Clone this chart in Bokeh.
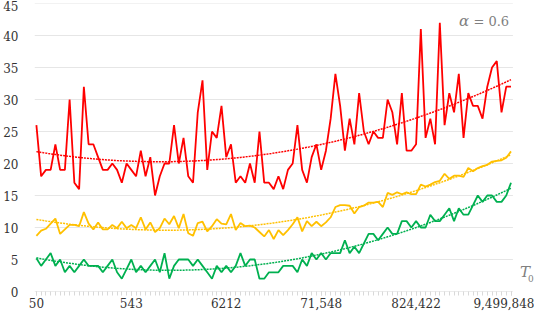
import numpy as np
from bokeh.plotting import figure
from bokeh.models import FixedTicker, Label, Range1d
from bokeh.embed import file_html
from bokeh.resources import INLINE

tick_labels = ["50", "543", "6212", "71,548", "824,422", "9,499,848"]
tick_index = [0, 20, 40, 60, 80, 100]
y_ticks = [0, 5, 10, 15, 20, 25, 30, 35, 40, 45]

red = [26, 18, 19, 19, 23, 19, 19, 30, 17, 16,
       32, 23, 23, 21, 19, 19, 20, 19, 17, 20,
       19, 18, 22, 18, 21, 15, 18, 20, 20, 26,
       20, 24, 18, 17, 28, 33, 19, 25, 24, 29,
       21, 23, 17, 18, 17, 20, 17, 25, 17, 17,
       16, 18, 16, 19, 20, 26, 19, 17, 21, 23,
       19, 22, 27, 34, 29, 22, 27, 23, 31, 25,
       23, 25, 24, 24, 30, 28, 23, 31, 22, 22,
       23, 41, 24, 27, 23, 42, 26, 31, 28, 34,
       24, 31, 29, 29, 27, 32, 35, 36, 28, 32,
       32]

yellow = [8.7, 9.5, 9.8, 10.6, 11.4, 9.0, 9.7, 10.4, 10.4, 10.2,
          12.4, 10.6, 9.7, 10.8, 9.7, 9.7, 10.4, 9.9, 10.9, 9.9,
          10.4, 9.9, 11.6, 9.7, 10.8, 9.3, 9.9, 11.4, 10.5, 11.8,
          9.9, 12.1, 9.1, 8.7, 10.7, 10.9, 9.4, 10.2, 11.3, 10.6,
          10.5, 12.1, 9.6, 10.7, 10.2, 10.3, 10.0, 9.3, 8.6, 9.6,
          8.2, 9.6, 8.8, 9.6, 10.5, 11.6, 9.4, 11.0, 10.2, 10.9,
          10.2, 10.8, 11.6, 13.2, 13.5, 13.5, 13.4, 12.2, 13.2, 13.4,
          13.9, 13.9, 14.0, 13.2, 15.4, 15.1, 15.5, 15.2, 15.5, 15.2,
          15.2, 16.7, 16.4, 16.7, 17.1, 17.3, 18.4, 17.6, 18.1, 18.1,
          17.9, 19.3, 18.8, 19.3, 19.6, 19.8, 20.3, 20.4, 20.5, 20.9,
          21.9]

green = [5.2, 4, 5, 6, 4, 5, 3, 4, 3, 4,
         5, 4, 4, 4, 3, 4, 5, 3, 2, 3.5,
         5, 3, 4, 3, 4, 5, 3, 6, 2, 4,
         5, 5, 5, 4, 5, 4, 3, 2, 4, 3,
         4, 3, 4, 6, 4, 5, 5, 2, 2, 3,
         3, 3, 4, 4, 4, 3, 5, 4, 6, 5,
         6, 5, 6, 6, 6, 8, 6, 7, 6, 7.5,
         9, 9, 8, 9, 10, 9, 9, 11, 11, 10,
         11, 10, 10, 12, 11, 11, 12, 13, 11, 13,
         12, 12, 13.5, 15, 14, 15, 15, 14, 14, 15,
         17]

colors = {"red": "#FF0000", "yellow": "#FFC000", "green": "#00B050"}
SERIF = "DejaVu Serif"

x = list(range(len(red)))
x_lo, x_hi = -0.4, 100.4

p = figure(width=534, height=312, output_backend="svg", toolbar_location=None,
           x_range=Range1d(x_lo, 104.95), y_range=Range1d(0, 45),
           min_border_left=25, min_border_right=0, min_border_top=3,
           min_border_bottom=21)
p.outline_line_color = None
p.background_fill_color = "white"
p.border_fill_color = "white"

p.xgrid.visible = False
p.ygrid.visible = False
p.segment(x0=[x_lo] * (len(y_ticks) - 1), x1=[x_hi] * (len(y_ticks) - 1),
          y0=y_ticks[1:], y1=y_ticks[1:], line_color="#e6e6e6", line_width=1)
p.segment(x0=[x_lo], x1=[x_hi], y0=[0], y1=[0], line_color="#d9d9d9", line_width=1)

p.xaxis.ticker = FixedTicker(ticks=tick_index, minor_ticks=x)
p.xaxis.major_label_overrides = {t: l for t, l in zip(tick_index, tick_labels)}
p.xaxis.axis_line_color = None
p.xaxis.major_tick_line_color = "#d9d9d9"
p.xaxis.minor_tick_line_color = "#d9d9d9"
p.xaxis.major_tick_in = 0
p.xaxis.major_tick_out = 4
p.xaxis.minor_tick_in = 0
p.xaxis.minor_tick_out = 4
p.xaxis.major_label_standoff = 2
p.xaxis.major_label_text_font = SERIF
p.xaxis.major_label_text_font_size = "12px"
p.xaxis.major_label_text_color = "#333333"

p.yaxis.ticker = FixedTicker(ticks=y_ticks)
p.yaxis.axis_line_color = None
p.yaxis.major_tick_line_color = None
p.yaxis.minor_tick_line_color = None
p.yaxis.major_label_standoff = 10
p.yaxis.major_label_text_font = SERIF
p.yaxis.major_label_text_font_size = "12px"
p.yaxis.major_label_text_color = "#333333"

xf = np.linspace(0, 100, 201)
for name, ys in (("red", red), ("yellow", yellow), ("green", green)):
    c = colors[name]
    p.line(x, ys, line_color=c, line_width=1.8)
    coef = np.polyfit(x, ys, 2)
    p.line(xf, np.polyval(coef, xf), line_color=c, line_width=1.5, line_dash="2 1")

p.add_layout(Label(x=99.6, y=42.2, text="= 0.6", text_align="right", text_baseline="middle",
                   text_font=SERIF, text_font_size="13px", text_color="#808080"))
p.add_layout(Label(x=91.2, y=42.2, text="α", text_align="right", text_baseline="middle",
                   text_font=SERIF, text_font_style="italic",
                   text_font_size="15px", text_color="#808080"))
p.add_layout(Label(x=101.9, y=3.1, text="T", text_align="left", text_baseline="middle",
                   text_font=SERIF, text_font_style="italic",
                   text_font_size="15px", text_color="#808080"))
p.add_layout(Label(x=103.6, y=2.0, text="0", text_align="left", text_baseline="middle",
                   text_font=SERIF, text_font_size="9px", text_color="#808080"))

open("out.html", "w").write(file_html(p, INLINE))
